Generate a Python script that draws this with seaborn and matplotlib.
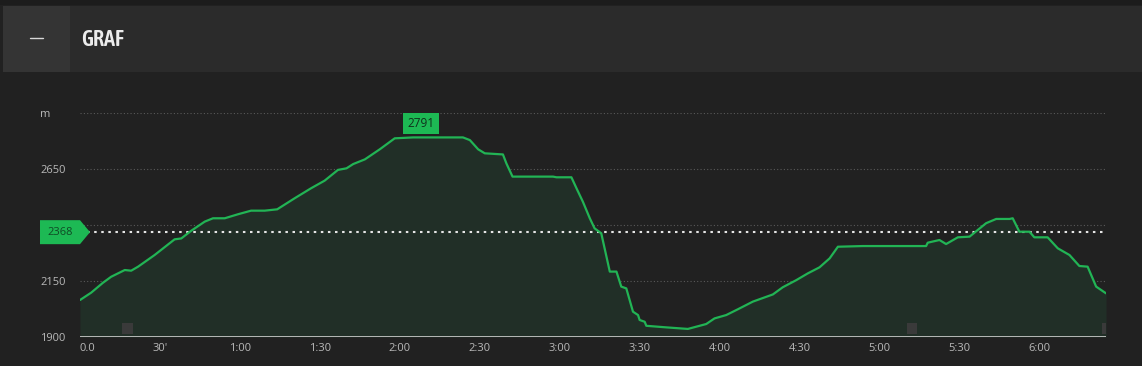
import matplotlib
matplotlib.use("Agg")
import matplotlib.pyplot as plt
import seaborn as sns
import pandas as pd
from matplotlib.patches import Rectangle, Polygon
from matplotlib.transforms import blended_transform_factory
from matplotlib import font_manager

# ---- data (minutes, metres) ----
minutes = [0, 4.2, 8.6, 11.7, 16.8, 19.2, 21.8, 28.0, 35.5, 38.0, 41.7, 46.8, 49.9, 54.3,
           59.3, 64.2, 69.3, 74.0, 80.5, 86.7, 91.8, 96.8, 100, 102.5, 106.9, 112.5, 118.1,
           125, 133.8, 143.7, 146.3, 149.4, 151.9, 158.7, 160, 162.3, 165, 177.5, 178.8,
           184.4, 186.3, 188.7, 191.3, 193.1, 195.6, 198.8, 201.3, 203.1, 205, 207.5, 209.4,
           210, 211.9, 212.5, 220, 228.1, 232.5, 235, 238.1, 242.5, 246.9, 252.5, 260, 263.7,
           268.8, 273.1, 277.5, 281.3, 284.4, 293.7, 306.3, 317.5, 318.1, 322.5, 325, 329.4,
           333.8, 340, 343.8, 348.8, 350, 352.5, 356.3, 358.1, 363.1, 366.9, 371.3, 375,
           378.1, 381.3, 385]
elevation = [2065, 2098, 2142, 2169, 2199, 2196, 2214, 2266, 2336, 2340, 2374, 2415, 2430, 2430,
             2448, 2464, 2464, 2470, 2519, 2564, 2598, 2646, 2653, 2672, 2693, 2738, 2787,
             2791, 2791, 2791, 2779, 2738, 2720, 2715, 2675, 2616, 2616, 2616, 2613,
             2613, 2564, 2504, 2430, 2385, 2363, 2192, 2192, 2125, 2117, 2013, 1998,
             1976, 1968, 1950, 1943, 1936, 1950, 1958, 1983, 1998, 2024, 2058, 2090, 2122,
             2154, 2184, 2211, 2251, 2303, 2306, 2306, 2306, 2321, 2333, 2315, 2345,
             2348, 2408, 2427, 2427, 2430, 2370, 2370, 2345, 2345, 2296, 2266, 2217,
             2214, 2125, 2095]

y_ticks = [1900, 2150, 2400, 2650, 2900]
y_tick_labels = ["1900", "2150", "2400", "2650", "m"]
x_ticks = [0, 30, 60, 90, 120, 150, 180, 210, 240, 270, 300, 330, 360]
x_tick_labels = ["0.0", "30'", "1:00", "1:30", "2:00", "2:30", "3:00", "3:30",
                 "4:00", "4:30", "5:00", "5:30", "6:00"]
max_label = "2791"
max_value = 2791
max_time = 128
current_level = 2368
current_label = "2368"
waypoint_minutes = [17.8, 312.2, 385.5]
waypoint_elev = [1938, 1938, 1938]
title = "GRAF"

# ---- style ----
BG = "#212121"
HEADER = "#2b2b2b"
BUTTON = "#343434"
LINE = "#22b455"
FILL = "#212f27"
TXT = "#b9b9b9"

sns.set_style("dark", {"axes.facecolor": BG, "figure.facecolor": BG})
plt.rcParams["font.family"] = ["Open Sans", "DejaVu Sans"]

# pick a condensed font for the header title if one is installed
title_fp = None
cands = []
for f in font_manager.fontManager.ttflist:
    st = str(f.stretch).lower()
    nm = f.name.lower()
    if ("condensed" in st or "narrow" in nm or "condensed" in nm) and f.style == "normal":
        w = f.weight if isinstance(f.weight, int) else 400
        cands.append((abs(w - 600), f.fname))
if cands:
    cands.sort()
    title_fp = font_manager.FontProperties(fname=cands[0][1], size=16)
else:
    title_fp = font_manager.FontProperties(family="Roboto", weight="medium", size=15)

W, H = 1142, 366
fig = plt.figure(figsize=(W / 100, H / 100), dpi=100)
fig.patch.set_facecolor(BG)

def fx(px):
    return px / W

def fy(py):
    return 1 - py / H

# header band
fig.add_artist(Rectangle((fx(0), fy(5)), 1, fy(0) - fy(5), transform=fig.transFigure,
                         facecolor="#1c1c1c", edgecolor="none"))
fig.add_artist(Rectangle((fx(3), fy(72)), 1, fy(6) - fy(72), transform=fig.transFigure,
                         facecolor=HEADER, edgecolor="none"))
fig.add_artist(Rectangle((fx(3), fy(72)), fx(70) - fx(3), fy(6) - fy(72),
                         transform=fig.transFigure, facecolor=BUTTON, edgecolor="none"))
fig.add_artist(plt.Line2D([fx(30), fx(43)], [fy(37.5), fy(37.5)], transform=fig.transFigure,
                          color="#d8d8d8", lw=1.0))
fig.text(fx(81), fy(40), title, color="#ececec", fontproperties=title_fp,
         va="center", ha="left")

# axes
ax = fig.add_axes([fx(80), fy(337), fx(1106) - fx(80), fy(113) - fy(337)])
ax.set_facecolor(BG)
df = pd.DataFrame({"minutes": minutes, "elevation": elevation})

ax.fill_between(df["minutes"], df["elevation"], 1900, color=FILL, lw=0, zorder=1)
sns.lineplot(data=df, x="minutes", y="elevation", ax=ax, color=LINE, lw=1.6, zorder=4)

ax.set_xlim(0, 385)
ax.set_ylim(1900, 2900)

for yv in y_ticks[1:]:
    ax.axhline(yv, color="#5a5a5a", lw=0.8, ls=(0, (1, 2)), zorder=0.5)
ax.axhline(1900, color="#d0d0d0", lw=1.2, zorder=5)

# current level dotted line
ax.axhline(current_level, color="#e6e6e6", lw=1.5, ls=(0, (1.2, 2.2)), zorder=3)

# waypoint squares
ax.scatter(waypoint_minutes, waypoint_elev, marker="s", s=60, color="#3a3a3a",
           edgecolor="none", zorder=2)

ax.set_xticks(x_ticks)
ax.set_xticklabels(x_tick_labels)
ax.set_yticks(y_ticks)
ax.set_yticklabels(y_tick_labels)
ax.tick_params(axis="x", colors=TXT, labelsize=8, length=0, pad=4)
ax.tick_params(axis="y", colors=TXT, labelsize=8, length=0, pad=28.5)
for lbl in ax.get_yticklabels():
    lbl.set_horizontalalignment("left")
ax.get_xticklabels()[0].set_horizontalalignment("left")
ax.set_xlabel("")
ax.set_ylabel("")
for s in ax.spines.values():
    s.set_visible(False)
ax.grid(False)

# max label
ax.annotate(max_label, xy=(max_time, max_value), xytext=(0, 10), textcoords="offset points",
            ha="center", va="center", fontsize=8.5, color="#10301c",
            bbox=dict(boxstyle="square,pad=0.35", fc="#1db954", ec="none"), zorder=6)

# current level marker (pentagon arrow)
tr = blended_transform_factory(fig.transFigure, ax.transData)
half = 12 / 0.224
poly = Polygon([(fx(40), current_level + half), (fx(80), current_level + half),
                (fx(90), current_level), (fx(80), current_level - half),
                (fx(40), current_level - half)], closed=True, transform=tr,
               facecolor="#1db954", edgecolor="none", clip_on=False, zorder=7)
fig.add_artist(poly)
fig.text(fx(60), current_level, current_label, transform=tr, color="#0f4a25", fontsize=8,
         ha="center", va="center", zorder=8)

fig.savefig("out.png", dpi=100, facecolor=BG)
